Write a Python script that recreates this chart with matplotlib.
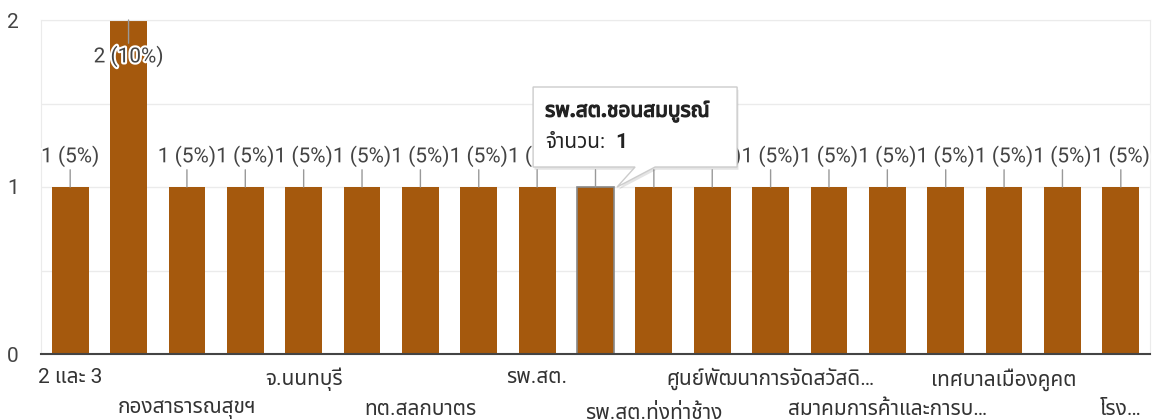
import matplotlib
matplotlib.use('Agg')
import matplotlib.pyplot as plt
import matplotlib.patheffects as pe
import matplotlib.transforms as mtransforms

plt.rcParams['font.family'] = ['Roboto', 'Noto Sans Thai', 'DejaVu Sans']

# data
categories = ['2 และ 3', '', 'กองสาธารณสุขฯ', '', 'จ.นนทบุรี', '', 'ทต.สลกบาตร', '',
              'รพ.สต.', 'รพ.สต.ชอนสมบูรณ์', 'รพ.สต.ทุ่งท่าช้าง', '',
              'ศูนย์พัฒนาการจัดสวัสดิ…', '', 'สมาคมการค้าและการบ…', '',
              'เทศบาลเมืองคูคต', '', 'โรง…']
values = [1, 2, 1, 1, 1, 1, 1, 1, 1, 1, 1, 1, 1, 1, 1, 1, 1, 1, 1]
yticks = [0, 1, 2]
hover = 9

BAR = '#a5590d'
TXT = '#444444'
FS = 15

total = sum(values)
xs = list(range(len(values)))

fig = plt.figure(figsize=(11.57, 4.2), dpi=100)
ax = fig.add_axes([41/1157, 66/420, 1109/1157, 334/420])

ax.bar(xs, values, width=0.63, color=BAR, zorder=2)
ax.bar([hover], [values[hover]], width=0.63, color=BAR, zorder=2,
       edgecolor='#888888', lw=1.2)

ax.set_xlim(-0.5, len(values) - 0.5)
ax.set_ylim(0, max(yticks))
ax.set_yticks(yticks, [str(t) for t in yticks])
ax.set_yticks([0.5, 1.5], minor=True)
ax.grid(axis='y', which='both', color='#ebebeb', lw=1, zorder=0)
ax.tick_params(axis='y', which='both', length=0, pad=16, labelsize=FS,
               labelcolor=TXT)

# two rows of category labels, every second category
ax.set_xticks(xs[0::4], categories[0::4])
ax.set_xticks(xs[2::4], categories[2::4], minor=True)
ax.tick_params(axis='x', which='both', length=0, labelsize=FS, labelcolor='#333333')
ax.tick_params(axis='x', which='major', pad=10)
ax.tick_params(axis='x', which='minor', pad=33)

for s in ['left', 'right', 'top']:
    ax.spines[s].set_color('#ebebeb')
ax.spines['bottom'].set_color('#444444')
ax.spines['bottom'].set_linewidth(1.5)
ax.spines['bottom'].set_zorder(3)

halo = [pe.withStroke(linewidth=3, foreground='white')]
for x, v in zip(xs, values):
    lab = f'{v} ({v / total * 100:.0f}%)'
    if v >= max(yticks):
        off, va = -26, 'top'
    else:
        off, va = 20, 'bottom'
    t = ax.annotate(lab, xy=(x, v), xytext=(0, off), textcoords='offset pixels',
                    ha='center', va=va, fontsize=FS, color=TXT, zorder=4,
                    arrowprops=dict(arrowstyle='-', color='#999999', lw=1,
                                    shrinkA=0, shrinkB=0))
    t.set_path_effects(halo)

# tooltip for the hovered bar, sized in inches around its tip
tip = mtransforms.ScaledTranslation(hover + 0.37, values[hover], ax.transData)
tr = fig.dpi_scale_trans + tip
box = plt.Polygon([(-0.84, 0.20), (0.18, 0.20), (0, 0), (0.38, 0.20),
                   (1.20, 0.20), (1.20, 1.00), (-0.84, 1.00)],
                  closed=True, transform=tr, fc='white', ec='#cccccc', lw=1,
                  zorder=10, clip_on=False)
box.set_path_effects([pe.SimplePatchShadow(offset=(1, -2), alpha=0.15),
                      pe.Normal()])
ax.add_patch(box)
bold = [pe.withStroke(linewidth=0.9, foreground='#222222')]
ax.text(-0.72, 0.76, categories[hover], transform=tr, fontsize=FS,
        fontweight='bold', color='#222222', va='center', ha='left', zorder=11,
        path_effects=bold)
ax.text(-0.72, 0.44, 'จำนวน:', transform=tr, fontsize=FS, color='#222222',
        va='center', ha='left', zorder=11)
ax.text(-0.02, 0.44, str(values[hover]), transform=tr, fontsize=FS,
        fontweight='bold', color='#222222', va='center', ha='left', zorder=11)

fig.savefig('out.png', dpi=100)
